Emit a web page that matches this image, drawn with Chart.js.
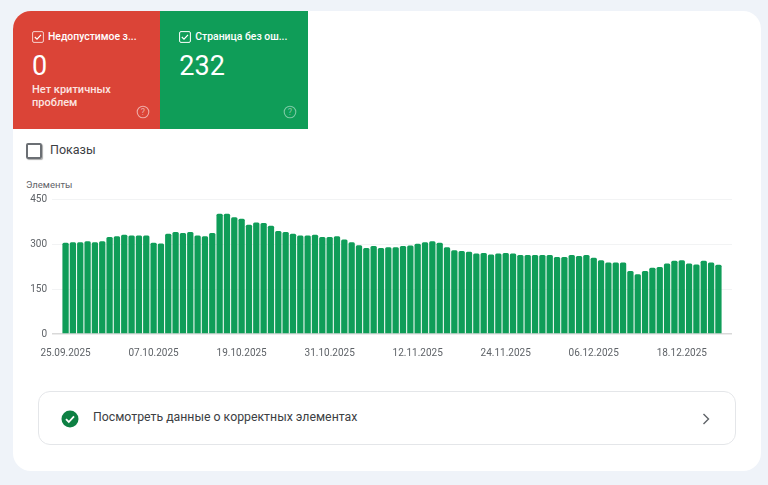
<!DOCTYPE html>
<html lang="ru">
<head>
<meta charset="utf-8">
<title>Страницы</title>
<script src="https://cdn.jsdelivr.net/npm/chart.js@4"></script>
<style>
  html, body { margin: 0; padding: 0; }
  body { width: 768px; height: 485px; background: #eff3f9; overflow: hidden; position: relative; font-family: Roboto, sans-serif; }
  .card { position: absolute; left: 13px; top: 11px; width: 748px; height: 460px; background: #fff; border-radius: 18px; overflow: hidden; }
  .tile { position: absolute; top: 0; height: 118px; width: 147.7px; color: #fff; }
  .red { left: 0; width: 147.3px; background: #db4437; }
  .green { left: 147.3px; background: #0f9d58; }
  .head { position: absolute; left: 35px; top: 19px; font-size: 10.4px; line-height: 13px; font-weight: 500; white-space: nowrap; }
  .box { position: absolute; left: 19px; top: 20px; }
  .num { position: absolute; left: 19px; top: 39px; font-size: 27px; line-height: 32px; }
  .sub { position: absolute; left: 19px; top: 72px; font-size: 11px; font-weight: 500; line-height: 13px; color: #fbe4e1; }
  .help { position: absolute; left: 123px; top: 94px; }
  .show-box { position: absolute; left: 13px; top: 132px; width: 12px; height: 12px; border: 2px solid #6b6f74; border-radius: 2px; box-shadow: 1px 1px 1px #aaa; }
  .show { position: absolute; left: 37px; top: 131px; font-size: 12.5px; line-height: 16px; color: #3c4043; }
  .y-title { position: absolute; left: 13px; top: 168px; font-size: 9.5px; line-height: 12px; color: #5f6368; }
  #wrap { position: absolute; left: 7px; top: 177px; width: 730px; height: 172px; }
  .link { position: absolute; left: 25px; top: 380px; width: 696px; height: 52px; border: 1px solid #e4e6e9; border-radius: 12px; }
  .link svg { position: absolute; }
  .link span { position: absolute; left: 54px; top: 17px; font-size: 12.3px; line-height: 16px; color: #3c4043; white-space: nowrap; }
</style>
</head>
<body>
<div class="card">
  <div class="tile red">
    <svg class="box" width="12" height="12" viewBox="0 0 12 12" fill="none" stroke="#fff"><rect x=".6" y=".6" width="10.8" height="10.8" rx="1.4" stroke-opacity=".75"/><path d="M2.8 6l2.2 2.2 4-4.4" stroke-width="1.2"/></svg>
    <div class="head">Недопустимое з...</div>
    <div class="num">0</div>
    <div class="sub">Нет критичных<br>проблем</div>
    <svg class="help" width="14" height="14" viewBox="0 0 14 14"><circle cx="7" cy="7" r="5.8" fill="none" stroke="#fff" stroke-opacity=".55" stroke-width="1.1"/><text x="7" y="10" text-anchor="middle" font-size="9" fill="#fff" fill-opacity=".55" font-family="Roboto">?</text></svg>
  </div>
  <div class="tile green">
    <svg class="box" width="12" height="12" viewBox="0 0 12 12" fill="none" stroke="#fff"><rect x=".6" y=".6" width="10.8" height="10.8" rx="1.4"/><path d="M2.8 6l2.2 2.2 4-4.4" stroke-width="1.2"/></svg>
    <div class="head">Страница без ош...</div>
    <div class="num">232</div>
    <svg class="help" width="14" height="14" viewBox="0 0 14 14"><circle cx="7" cy="7" r="5.8" fill="none" stroke="#fff" stroke-opacity=".45" stroke-width="1.1"/><text x="7" y="10" text-anchor="middle" font-size="9" fill="#fff" fill-opacity=".45" font-family="Roboto">?</text></svg>
  </div>
  <div class="show-box"></div>
  <div class="show">Показы</div>
  <div class="y-title">Элементы</div>
  <div id="wrap"><canvas id="chart"></canvas></div>
  <div class="link">
    <svg style="left:22px;top:18px" width="18" height="18" viewBox="0 0 18 18"><circle cx="9" cy="9" r="8.5" fill="#0d8043"/><path d="M5 9.2l2.8 2.8 5.2-5.6" fill="none" stroke="#fff" stroke-width="1.8"/></svg>
    <span>Посмотреть данные о корректных элементах</span>
    <svg style="left:662px;top:20px" width="10" height="14" viewBox="0 0 10 14"><path d="M2.5 2l5 5-5 5" fill="none" stroke="#5f6368" stroke-width="1.4"/></svg>
  </div>
</div>
<script>
const dates = [
  "25.09.2025","26.09.2025","27.09.2025","28.09.2025","29.09.2025","30.09.2025",
  "01.10.2025","02.10.2025","03.10.2025","04.10.2025","05.10.2025","06.10.2025","07.10.2025","08.10.2025","09.10.2025","10.10.2025",
  "11.10.2025","12.10.2025","13.10.2025","14.10.2025","15.10.2025","16.10.2025","17.10.2025","18.10.2025","19.10.2025","20.10.2025",
  "21.10.2025","22.10.2025","23.10.2025","24.10.2025","25.10.2025","26.10.2025","27.10.2025","28.10.2025","29.10.2025","30.10.2025","31.10.2025",
  "01.11.2025","02.11.2025","03.11.2025","04.11.2025","05.11.2025","06.11.2025","07.11.2025","08.11.2025","09.11.2025","10.11.2025",
  "11.11.2025","12.11.2025","13.11.2025","14.11.2025","15.11.2025","16.11.2025","17.11.2025","18.11.2025","19.11.2025","20.11.2025",
  "21.11.2025","22.11.2025","23.11.2025","24.11.2025","25.11.2025","26.11.2025","27.11.2025","28.11.2025","29.11.2025","30.11.2025",
  "01.12.2025","02.12.2025","03.12.2025","04.12.2025","05.12.2025","06.12.2025","07.12.2025","08.12.2025","09.12.2025","10.12.2025",
  "11.12.2025","12.12.2025","13.12.2025","14.12.2025","15.12.2025","16.12.2025","17.12.2025","18.12.2025","19.12.2025","20.12.2025",
  "21.12.2025","22.12.2025","23.12.2025"
];
const items = [
  304,306,306,309,306,309,323,326,331,328,328,328,304,302,334,340,337,340,328,326,337,401,401,389,384,364,372,370,361,
  343,340,334,328,328,331,323,323,326,315,306,296,287,293,287,289,289,293,295,301,306,309,304,289,279,277,274,268,270,265,268,270,
  268,263,263,263,263,263,257,257,263,260,263,254,246,238,238,238,210,199,210,221,223,235,244,246,235,232,244,238,231
];
const yTicks = [0, 150, 300, 450];
const labelEvery = 12;

const cht = document.getElementById('chart');
new Chart(cht, {
  type: "bar",
  data: {
    datasets: [
      {
        label: "Элементы",
        data: items.map((value, i) => ({ x: i, y: value })),
        backgroundColor: "#0f9d58",
        barPercentage: 0.86,
        categoryPercentage: 1,
        borderRadius: { topLeft: 1.5, topRight: 1.5 },
      },
    ],
  },
  options: {
    responsive: true,
    maintainAspectRatio: false,
    animation: false,
    layout: { padding: { top: 0, right: 18, left: 0, bottom: 0 } },
    plugins: { legend: { display: false }, tooltip: { enabled: false } },
    scales: {
      x: {
        type: "linear",
        offset: false,
        min: -1.85,
        max: 90.85,
        afterFit: (s) => { s.height = 26; },
        grid: { display: false },
        border: { display: false },
        ticks: {
          stepSize: labelEvery,
          includeBounds: false,
          maxRotation: 0,
          autoSkip: false,
          padding: 5,
          color: "#5f6368",
          font: { family: "Roboto", size: 10 },
          callback: (value) => dates[value] || "",
        },
      },
      y: {
        min: 0,
        max: 450,
        afterBuildTicks: (s) => { s.ticks = yTicks.map((value) => ({ value })); },
        afterFit: (s) => { s.width = 32; },
        grid: {
          drawTicks: false,
          lineWidth: (ctx) => (ctx.tick.value === 0 ? 1.5 : 1),
          color: (ctx) => (ctx.tick.value === 0 ? "#d9d9d9" : "#f2f3f4"),
        },
        border: { display: false },
        ticks: {
          padding: 5,
          color: "#5f6368",
          font: { family: "Roboto", size: 10 },
        },
      },
    },
  },
});
</script>
</body>
</html>
